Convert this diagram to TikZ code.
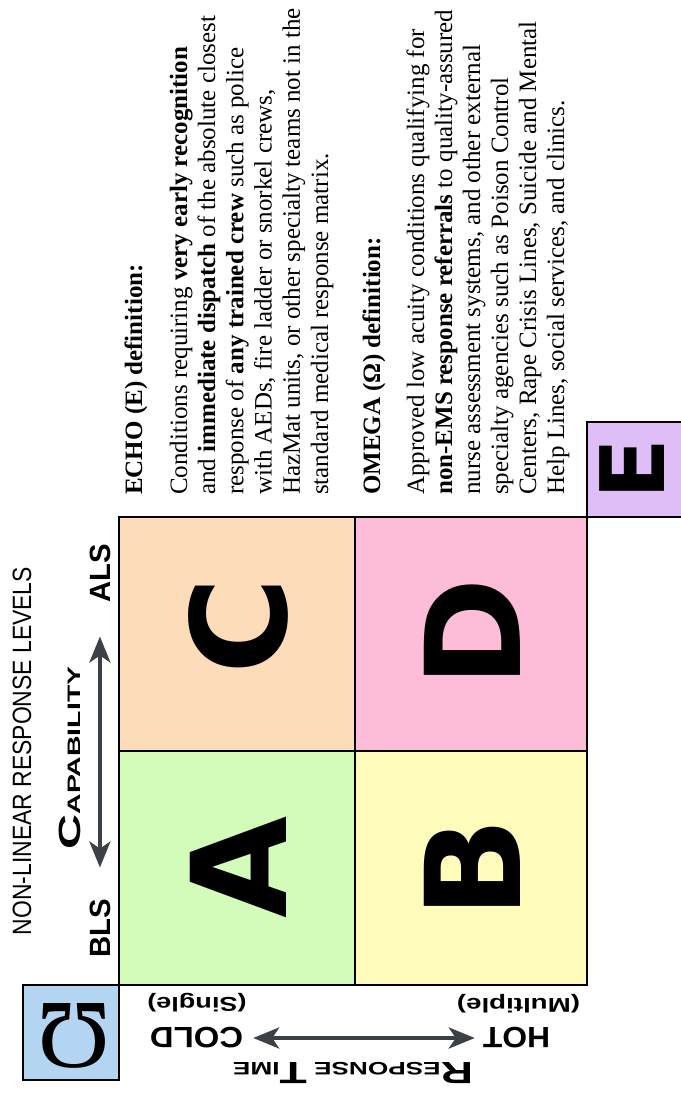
\documentclass[tikz,border=0pt]{standalone}
\usepackage{fontspec}
\setmainfont{Liberation Serif}
\setsansfont{Liberation Sans}
\newfontfamily\heavyfont{DejaVu Sans}
\usetikzlibrary{arrows.meta}

\definecolor{cellA}{HTML}{D3FBB9}
\definecolor{cellB}{HTML}{FFFBBB}
\definecolor{cellC}{HTML}{FDDCB9}
\definecolor{cellD}{HTML}{FDBCD8}
\definecolor{cellE}{HTML}{DFBDF6}
\definecolor{omegablue}{HTML}{B3D5F1}
\definecolor{arrowgray}{HTML}{3C4148}

% stretch a text to a given width, height kept
\newcommand{\fitw}[2]{\resizebox{#1}{\height}{#2}}

\begin{document}
\begin{tikzpicture}[x=1pt, y=-1pt,
  every node/.style={inner sep=0pt},
  cell/.style={draw=black, line width=2.2pt},
  bigletter/.style={rotate=90, font=\heavyfont\bfseries\fontsize{132}{132}\selectfont},
  sidelabel/.style={font=\sffamily\bfseries\fontsize{29.3}{30}\selectfont},
  txtline/.style={rotate=90, anchor=base west, font=\fontsize{25}{28}\selectfont},
  darrow/.style={{Stealth[length=26pt, width=21pt, inset=7pt]}-{Stealth[length=26pt, width=21pt, inset=7pt]}, line width=4pt, arrowgray}]
  \useasboundingbox (0,0) rectangle (680,1100);

  % the four cells and the two side boxes
  \filldraw[cell, fill=cellC] (119,517) rectangle (355,751);
  \filldraw[cell, fill=cellD] (355,517) rectangle (587,751);
  \filldraw[cell, fill=cellA] (119,751) rectangle (355,985);
  \filldraw[cell, fill=cellB] (355,751) rectangle (587,985);
  \filldraw[cell, fill=cellE] (587,422) rectangle (683,517);
  \filldraw[cell, fill=omegablue] (23,985) rectangle (119,1080);

  \node[bigletter] (letA) at (238,867) {A};
  \node[bigletter] (letB) at (472,868) {B};
  \node[bigletter] (letC) at (238,626) {C};
  \node[bigletter] (letD) at (472,633) {D};
  \node[bigletter, font=\heavyfont\bfseries\fontsize{89}{89}\selectfont] (letE) at (632,469) {E};
  \node[rotate=180, font=\fontsize{98}{98}\selectfont] (omega) at (74,1036) {Ω};

  % left side: capability
  \node[rotate=90, font=\sffamily\fontsize{26.5}{27}\selectfont] (levels) at (22,751) {\fitw{368pt}{NON-LINEAR RESPONSE LEVELS}};
  \node[sidelabel, rotate=90, anchor=base] (als) at (110,573) {ALS};
  \node[sidelabel, rotate=90, anchor=base] (bls) at (110,928) {BLS};
  \node[rotate=90, anchor=base] (capab) at (80,758) {\fitw{183pt}{\sffamily\bfseries\fontsize{30.7}{31}\selectfont C\fontsize{18}{18}\selectfont APABILITY}};
  \draw[darrow, shorten <=34pt, shorten >=31pt] (als.west) -- (bls.east);

  % bottom: response time
  \node[sidelabel, rotate=180] (cold) at (196.5,1038) {\fitw{93pt}{COLD}};
  \node[sidelabel, rotate=180] (hot) at (516.5,1038) {\fitw{67pt}{HOT}};
  \node[rotate=180, font=\sffamily\bfseries\fontsize{20}{20}\selectfont] (single) at (197,1003) {\fitw{99pt}{(Single)}};
  \node[rotate=180, font=\sffamily\bfseries\fontsize{20}{20}\selectfont] (multiple) at (518.5,1004) {\fitw{123pt}{(Multiple)}};
  \node[rotate=180] (resptime) at (353,1073) {\fitw{240pt}{\sffamily\bfseries\fontsize{30.7}{31}\selectfont R\fontsize{18}{18}\selectfont ESPONSE \fontsize{30.7}{31}\selectfont T\fontsize{18}{18}\selectfont IME}};
  \draw[darrow, shorten <=10pt, shorten >=8pt] (cold.west) -- (hot.east);

  % definitions
  \node[txtline] (echohead) at (142,495) {\textbf{ECHO (E) definition:}};
  \foreach \txt [count=\i from 0] in {
      {Conditions requiring \textbf{very early recognition}},
      {and \textbf{immediate dispatch} of the absolute closest},
      {response of \textbf{any trained crew} such as police},
      {with AEDs, fire ladder or snorkel crews,},
      {HazMat units, or other specialty teams not in the},
      {standard medical response matrix.}}
    \node[txtline] (echo\i) at (187+28.2*\i, 495) {\txt};

  \node[txtline] (omegahead) at (380,495) {\textbf{OMEGA (Ω) definition:}};
  \foreach \txt [count=\i from 0] in {
      {Approved low acuity conditions qualifying for},
      {\textbf{non-EMS response referrals} to quality-assured},
      {nurse assessment systems, and other external},
      {specialty agencies such as Poison Control},
      {Centers, Rape Crisis Lines, Suicide and Mental},
      {Help Lines, social services, and clinics.}}
    \node[txtline] (omega\i) at (424+28*\i, 495) {\txt};
\end{tikzpicture}
\end{document}
